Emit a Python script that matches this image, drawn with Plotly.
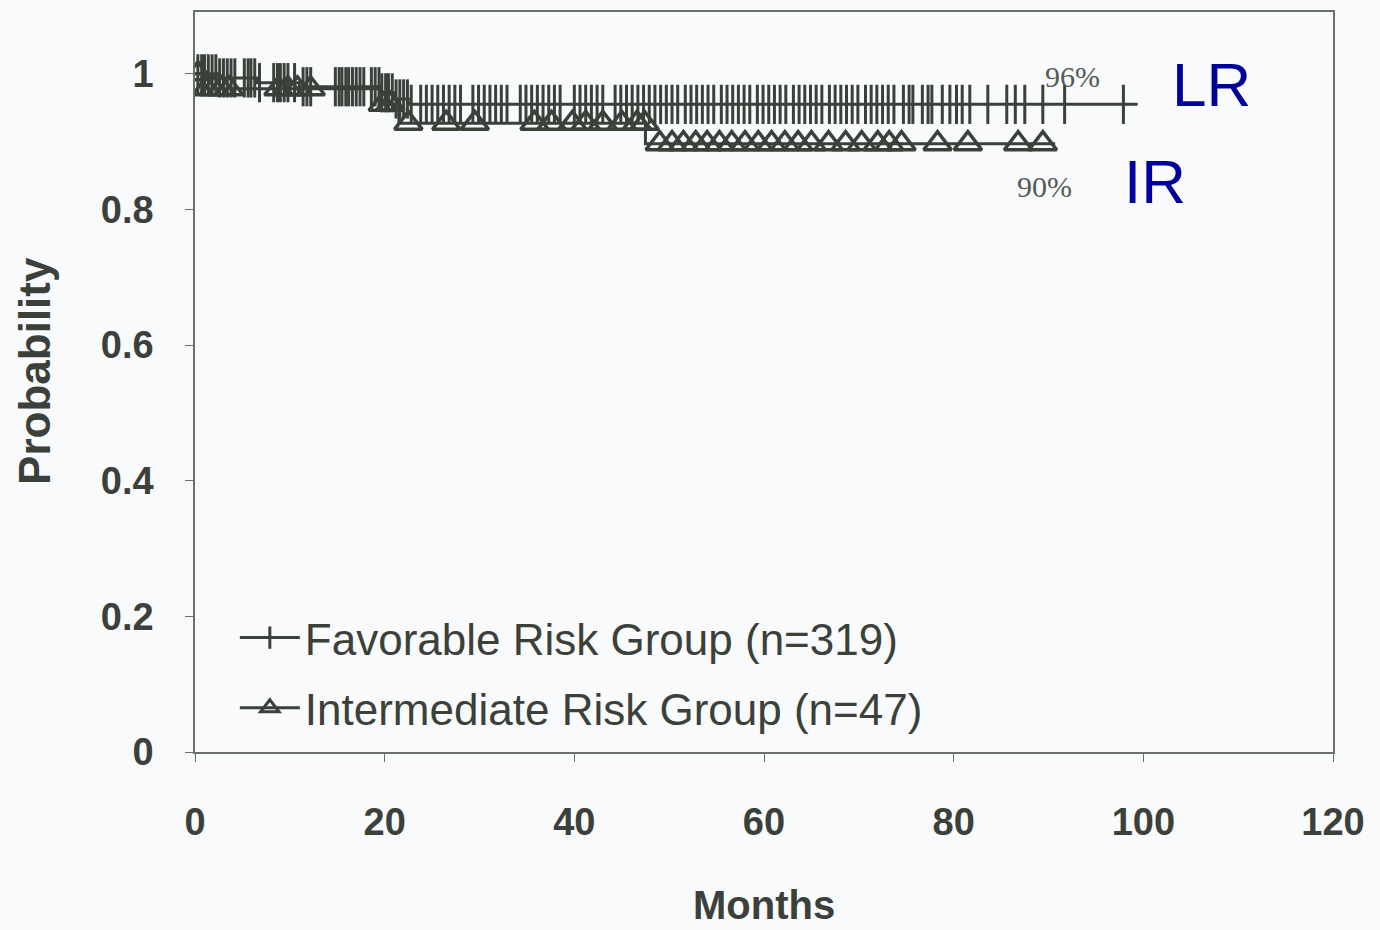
import numpy as np
import plotly.graph_objects as go

# ---- data ----
lr_step_t = [0, 2.5, 6.5, 11.0, 19.5, 21.0, 22.5, 99.4]
lr_step_s = [1.0, 0.994, 0.987, 0.981, 0.972, 0.963, 0.955, 0.955]
lr_censor_t = [0.3, 0.7, 1.0, 1.4, 1.8, 2.2, 2.6, 3.0, 3.4, 3.8, 4.2, 5.2, 5.6, 5.9, 6.3,
               6.8, 8.3, 8.7, 9.0, 9.4, 9.8, 10.5, 11.4, 11.8, 12.2, 14.8, 15.2, 15.5,
               15.9, 16.2, 16.6, 17.0, 17.4, 17.8, 18.6, 19.0, 19.4, 19.7, 20.1, 20.4,
               20.8, 21.2, 21.6, 22.0, 22.4, 22.8,
               23.8, 24.4, 25.0, 25.6, 26.2, 26.8, 27.4, 28.0, 29.3, 29.9, 30.5, 31.1,
               31.7, 32.3, 32.9, 34.3, 34.9, 35.5, 36.1, 36.7, 37.3, 37.9, 38.5,
               40.0, 40.6, 41.2, 41.8, 42.4, 43.0, 44.3, 44.9, 45.5, 46.1, 46.7, 47.3,
               47.9, 48.5, 49.1, 49.7, 50.3, 50.9, 51.7, 52.3, 52.9, 53.5, 54.1, 54.7,
               55.5, 56.1, 56.7, 57.3, 57.9, 58.5, 59.3, 59.9, 60.5, 61.1, 61.7, 62.3,
               63.1, 63.7, 64.3, 64.9, 65.5, 66.1, 66.9, 67.5, 68.1, 68.7, 69.3, 69.9,
               70.7, 71.3, 71.9, 72.5, 73.1, 73.7, 74.7, 75.3, 75.7, 76.7, 77.3, 77.7,
               78.8, 79.6, 80.3, 80.9, 81.7, 83.6, 85.6, 86.5, 87.5, 89.4, 91.7, 97.9]

ir_step_t = [0, 0.8, 19.5, 21.5, 47.5, 90.7]
ir_step_s = [1.0, 0.978, 0.955, 0.927, 0.897, 0.897]
ir_censor_t = [0.3, 1.2, 2.0, 2.8, 3.6, 8.8, 9.8, 10.8, 12.2, 19.8, 20.6, 22.5, 26.5,
               29.5, 35.8, 37.6, 39.8, 41.2, 43.0, 45.0, 46.6, 47.4, 49.0, 50.3, 51.5,
               52.8, 54.0, 55.3, 56.6, 58.0, 59.4, 60.8, 62.2, 63.6, 65.0, 66.8, 68.6,
               70.3, 72.0, 73.2, 74.5, 78.3, 81.5, 86.8, 89.4]

series_names = ["Favorable Risk Group (n=319)", "Intermediate Risk Group (n=47)"]
end_labels = ["96%", "90%"]
group_labels = ["LR", "IR"]
x_ticks = [0, 20, 40, 60, 80, 100, 120]
y_ticks = [0, 0.2, 0.4, 0.6, 0.8, 1]
y_ticktext = ["0", "0.2", "0.4", "0.6", "0.8", "1"]


def surv_at(step_t, step_s, times):
    idx = np.searchsorted(np.array(step_t), np.array(times), side="right") - 1
    return [step_s[i] for i in idx]


ink = "#3b403a"
fig = go.Figure()

# step curves
fig.add_trace(go.Scatter(x=lr_step_t, y=lr_step_s, mode="lines", line_shape="hv",
                         line=dict(color=ink, width=3), showlegend=False,
                         hoverinfo="skip"))
fig.add_trace(go.Scatter(x=ir_step_t, y=ir_step_s, mode="lines", line_shape="hv",
                         line=dict(color=ink, width=3), showlegend=False,
                         hoverinfo="skip"))
# censor marks
fig.add_trace(go.Scatter(x=lr_censor_t, y=surv_at(lr_step_t, lr_step_s, lr_censor_t),
                         mode="markers",
                         marker=dict(symbol="line-ns", size=28,
                                     line=dict(color=ink, width=3)),
                         showlegend=False))
fig.add_trace(go.Scatter(x=ir_censor_t, y=surv_at(ir_step_t, ir_step_s, ir_censor_t),
                         mode="markers",
                         marker=dict(symbol="triangle-up-open", size=24, color=ink,
                                     line=dict(color=ink, width=3.5)),
                         showlegend=False))
# legend entries
fig.add_trace(go.Scatter(x=[None], y=[None], mode="lines+markers", name=series_names[0],
                         legendgroup="a",
                         line=dict(color=ink, width=3),
                         marker=dict(symbol="line-ns", size=16,
                                     line=dict(color=ink, width=3))))
fig.add_trace(go.Scatter(x=[None], y=[None], mode="lines+markers", name=series_names[1],
                         legendgroup="b",
                         line=dict(color=ink, width=3),
                         marker=dict(symbol="triangle-up-open", size=16, color=ink,
                                     line=dict(color=ink, width=3))))

# end labels
fig.add_annotation(x=92.5, y=0.996, text=end_labels[0], showarrow=False,
                   font=dict(family="Liberation Serif, Times New Roman, serif", size=30,
                             color="#555a55"))
fig.add_annotation(x=89.6, y=0.834, text=end_labels[1], showarrow=False,
                   font=dict(family="Liberation Serif, Times New Roman, serif", size=30,
                             color="#555a55"))
fig.add_annotation(x=107.2, y=0.984, text=group_labels[0], showarrow=False,
                   font=dict(family="Liberation Sans, Arial, sans-serif", size=62,
                             color="#00009a"))
fig.add_annotation(x=101.2, y=0.841, text=group_labels[1], showarrow=False,
                   font=dict(family="Liberation Sans, Arial, sans-serif", size=62,
                             color="#00009a"))

# axis titles
fig.add_annotation(xref="paper", yref="paper", x=0.5, y=-0.207, text="Months",
                   showarrow=False, yanchor="middle",
                   font=dict(family="Liberation Sans, Arial, sans-serif", size=40,
                             color=ink, weight="bold"))
fig.add_annotation(xref="paper", yref="paper", x=-0.1406, y=0.515, text="Probability",
                   showarrow=False, textangle=-90, xanchor="center", yanchor="middle",
                   font=dict(family="Liberation Sans, Arial, sans-serif", size=44,
                             color=ink, weight="bold"))

tickfont = dict(family="Liberation Sans, Arial, sans-serif", size=38, color=ink,
                weight="bold")
fig.update_xaxes(range=[0, 120], tickvals=x_ticks, ticks="outside", ticklen=8,
                 tickcolor="#6a6f6a", showline=True, linecolor="#6a6f6a", linewidth=1.5,
                 mirror=True, showgrid=False, zeroline=False, tickfont=tickfont,
                 ticklabelstandoff=28)
fig.update_yaxes(range=[0, 1.0912], tickvals=y_ticks, ticktext=y_ticktext,
                 ticks="outside", ticklen=8, tickcolor="#6a6f6a", showline=True,
                 linecolor="#6a6f6a", linewidth=1.5, mirror=True, showgrid=False,
                 zeroline=False, tickfont=tickfont, ticklabelstandoff=24)

fig.update_layout(
    width=1380, height=930,
    margin=dict(l=195, r=47, t=10, b=178, pad=0),
    paper_bgcolor="#f8fafb", plot_bgcolor="#f8fafb",
    legend=dict(x=0.035, y=0.202, xanchor="left", yanchor="top",
                bgcolor="rgba(0,0,0,0)", tracegroupgap=10, itemwidth=60,
                font=dict(family="Liberation Sans, Arial, sans-serif", size=44,
                          color=ink)),
    showlegend=True,
)

fig.write_html("out.html")
